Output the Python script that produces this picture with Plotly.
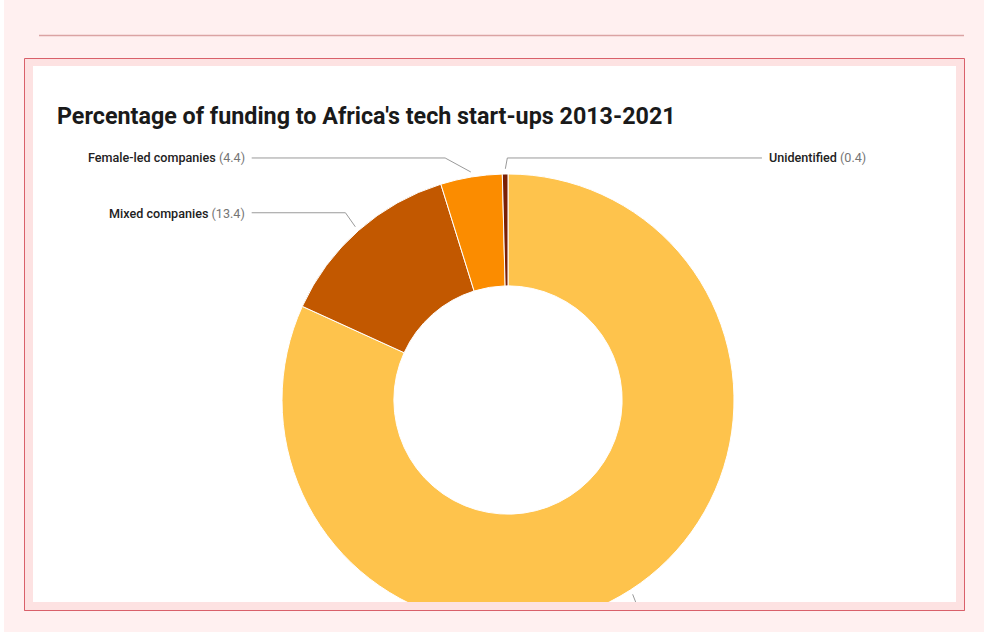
import math
import plotly.graph_objects as go

# ---------------- data ----------------
categories = ["Male-led companies", "Mixed companies", "Female-led companies", "Unidentified"]
values = [81.8, 13.4, 4.4, 0.4]
colors = ["#FEC34C", "#C25800", "#FB8C00", "#7A2005"]
title_text = "Percentage of funding to Africa's tech start-ups 2013-2021"

# ---------------- layout (pixels) ----------------
W, H = 987, 637
cx, cy, R = 508, 400, 226
hole = 0.505
PAGE = "#FFF0F0"
PAD = "#FDE2E2"
BORDER = "#D9606A"
LEADER = "#9A9A9A"

# label placement for each category: (side, row_y, elbow_x, line_end_x, text_x)
label_layout = {
    "Male-led companies": ("right", 640, 650, 700, 706),
    "Mixed companies": ("left", 213, 345, 252, 247),
    "Female-led companies": ("left", 158, 445, 252, 247),
    "Unidentified": ("right", 158, 507, 762, 767),
}


def px(x):
    return x / W


def py(y):
    return 1 - y / H


fig = go.Figure(
    go.Pie(
        labels=categories,
        values=values,
        sort=False,
        direction="clockwise",
        rotation=0,
        hole=hole,
        marker=dict(colors=colors, line=dict(color="white", width=1)),
        textinfo="none",
        hoverinfo="label+value",
        showlegend=False,
        domain=dict(x=[px(cx - R), px(cx + R)], y=[py(cy + R), py(cy - R)]),
    )
)

shapes = []
# page decoration (below)
shapes.append(dict(type="rect", xref="paper", yref="paper", layer="below",
                   x0=px(4), x1=px(984), y0=py(632), y1=py(0), fillcolor=PAGE, line=dict(width=0)))
shapes.append(dict(type="line", xref="paper", yref="paper", layer="below",
                   x0=px(39), x1=px(964), y0=py(35.5), y1=py(35.5), line=dict(color="#DBA3A3", width=1.6)))
shapes.append(dict(type="rect", xref="paper", yref="paper", layer="below",
                   x0=px(24.5), x1=px(964.5), y0=py(610.5), y1=py(58.5), fillcolor=PAD,
                   line=dict(color=BORDER, width=1)))
shapes.append(dict(type="rect", xref="paper", yref="paper", layer="below",
                   x0=px(33), x1=px(956), y0=py(602), y1=py(66), fillcolor="white", line=dict(width=0)))

# leader lines + labels computed from the slice angles
annotations = []
total = sum(values)
cum = 0.0
for cat, v in zip(categories, values):
    mid = (cum + v / 2) / total
    cum += v
    theta = 2 * math.pi * mid
    r0 = R + 5
    sx = cx + r0 * math.sin(theta)
    sy = cy - r0 * math.cos(theta)
    side, row_y, elbow_x, end_x, text_x = label_layout[cat]
    path = "M {:.3f},{:.3f} L {:.3f},{:.3f} L {:.3f},{:.3f}".format(
        px(sx), py(sy), px(elbow_x), py(row_y), px(end_x), py(row_y))
    shapes.append(dict(type="path", xref="paper", yref="paper", layer="above", path=path,
                       line=dict(color=LEADER, width=1)))
    if row_y < 600:
        annotations.append(dict(
            xref="paper", yref="paper", x=px(text_x), y=py(row_y),
            xanchor="right" if side == "left" else "left", yanchor="middle",
            showarrow=False,
            text="{} <span style='font-weight:400;fill:#757575'>({})</span>".format(cat, v),
            font=dict(family="Roboto", size=12.6, color="#222222", weight=500),
        ))

# bottom clipping strip (above the pie)
shapes.append(dict(type="rect", xref="paper", yref="paper", layer="above",
                   x0=px(25), x1=px(964), y0=py(610), y1=py(602), fillcolor=PAD, line=dict(width=0)))
shapes.append(dict(type="line", xref="paper", yref="paper", layer="above",
                   x0=px(24.5), x1=px(964.5), y0=py(610.5), y1=py(610.5), line=dict(color=BORDER, width=1)))
shapes.append(dict(type="rect", xref="paper", yref="paper", layer="above",
                   x0=px(4), x1=px(984), y0=py(632), y1=py(611), fillcolor=PAGE, line=dict(width=0)))
shapes.append(dict(type="rect", xref="paper", yref="paper", layer="above",
                   x0=0, x1=1, y0=0, y1=py(632), fillcolor="white", line=dict(width=0)))

annotations.append(dict(
    xref="paper", yref="paper", x=px(55), y=py(116), xanchor="left", yanchor="middle",
    showarrow=False, text="<b>" + title_text + "</b>",
    font=dict(family="Roboto", size=23.3, color="#1A1A1A"),
))

fig.update_layout(
    width=W, height=H,
    margin=dict(l=0, r=0, t=0, b=0),
    paper_bgcolor="white",
    shapes=shapes,
    annotations=annotations,
)

fig.write_html("out.html", config={"displayModeBar": False},
               post_script="document.body.style.margin='0';")
